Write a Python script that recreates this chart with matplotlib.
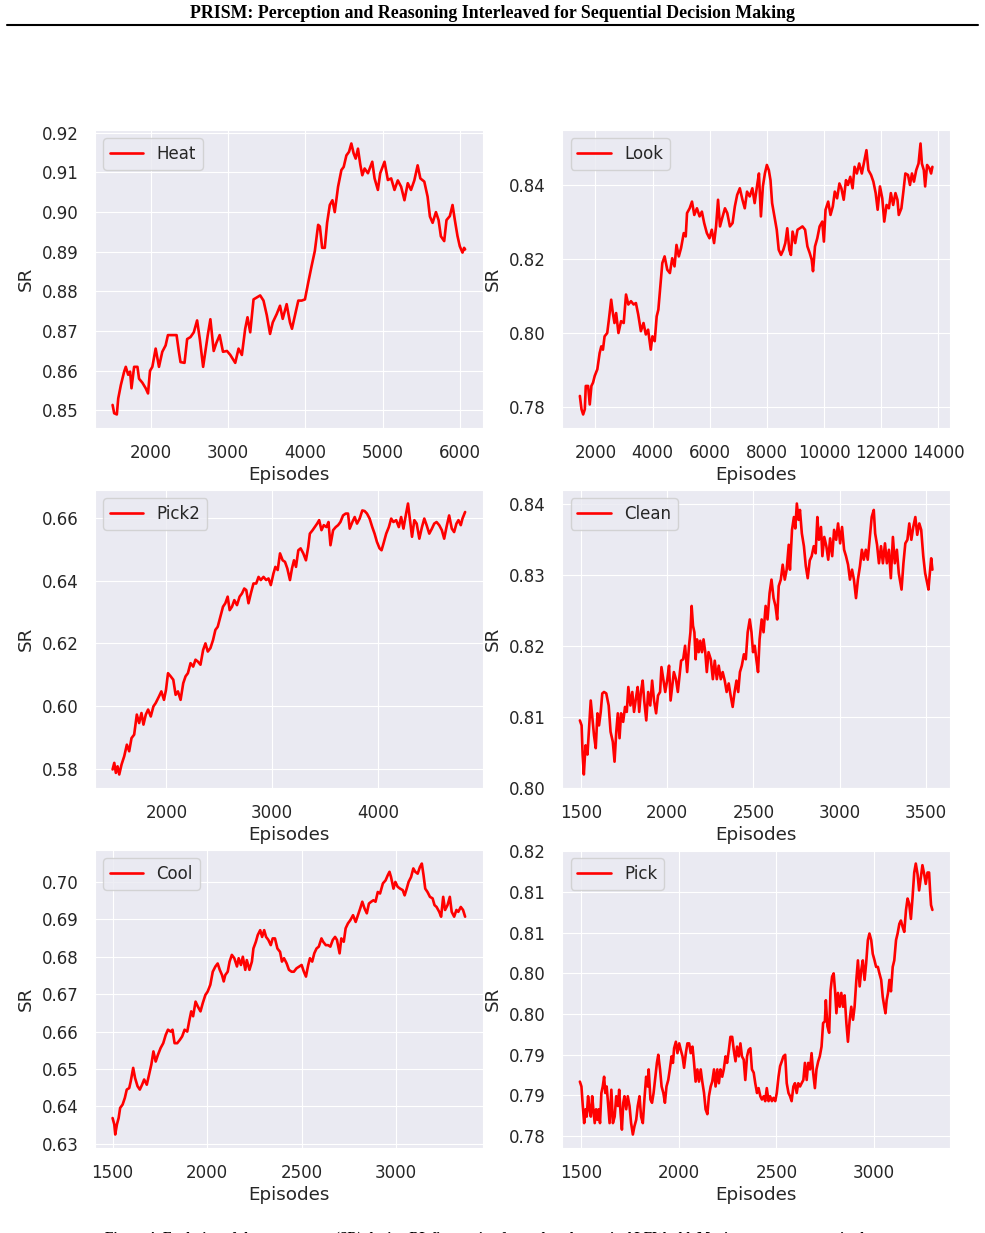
import numpy as np
import matplotlib
matplotlib.use("Agg")
import matplotlib.pyplot as plt
import matplotlib.ticker as mticker
import seaborn as sns

# success-rate curves (episode, SR)
heat_ep = [1502, 1523, 1557, 1575, 1609, 1652, 1673, 1704, 1729, 1747, 1781, 1824, 1845, 1888, 1931,
           1961, 1987, 2017, 2060, 2103, 2146, 2189, 2219, 2275, 2331, 2361, 2382, 2434, 2468, 2511,
           2554, 2597, 2632, 2675, 2705, 2735, 2769, 2812, 2846, 2889, 2932, 2984, 3027, 3091, 3134,
           3177, 3220, 3250, 3285, 3328, 3371, 3414, 3457, 3500, 3542, 3577, 3628, 3671, 3706, 3757,
           3800, 3826, 3865, 3908, 3951, 3994, 4037, 4080, 4122, 4165, 4187, 4217, 4251, 4281, 4316,
           4350, 4380, 4423, 4466, 4496, 4531, 4565, 4595, 4625, 4651, 4681, 4711, 4737, 4767, 4810,
           4866, 4896, 4939, 4969, 5025, 5068, 5111, 5154, 5197, 5240, 5283, 5326, 5368, 5411, 5454,
           5489, 5540, 5583, 5613, 5648, 5691, 5725, 5755, 5798, 5828, 5871, 5906, 5936, 5970, 6000,
           6035, 6056, 6069]
heat_sr = [0.8514, 0.8493, 0.8490, 0.8530, 0.8564, 0.8598, 0.8610, 0.8590, 0.8598, 0.8556, 0.8610,
           0.8610, 0.8580, 0.8570, 0.8556, 0.8543, 0.8600, 0.8610, 0.8656, 0.8610, 0.8648, 0.8664,
           0.8690, 0.8690, 0.8690, 0.8648, 0.8622, 0.8620, 0.8680, 0.8685, 0.8697, 0.8727, 0.8680,
           0.8610, 0.8650, 0.8690, 0.8730, 0.8650, 0.8670, 0.8690, 0.8648, 0.8650, 0.8640, 0.8620,
           0.8656, 0.8640, 0.8706, 0.8735, 0.8697, 0.8780, 0.8785, 0.8790, 0.8777, 0.8740, 0.8693,
           0.8722, 0.8743, 0.8764, 0.8731, 0.8768, 0.8722, 0.8706, 0.8740, 0.8777, 0.8777, 0.8780,
           0.8823, 0.8864, 0.8902, 0.8968, 0.8964, 0.8910, 0.8910, 0.8973, 0.9018, 0.9030, 0.9000,
           0.9064, 0.9106, 0.9114, 0.9143, 0.9152, 0.9173, 0.9148, 0.9135, 0.9160, 0.9120, 0.9093,
           0.9110, 0.9098, 0.9127, 0.9085, 0.9056, 0.9098, 0.9127, 0.9081, 0.9085, 0.9056, 0.9080,
           0.9064, 0.9030, 0.9073, 0.9056, 0.9080, 0.9118, 0.9085, 0.9077, 0.9039, 0.8989, 0.8973,
           0.9000, 0.8980, 0.8939, 0.8927, 0.8980, 0.8990, 0.9018, 0.8980, 0.8940, 0.8914, 0.8898,
           0.8910, 0.8906]

look_ep = [1458, 1515, 1573, 1631, 1665, 1746, 1804, 1862, 1919, 1977, 2069, 2150, 2208, 2265, 2323,
           2415, 2473, 2554, 2612, 2669, 2727, 2808, 2900, 2992, 3073, 3154, 3246, 3339, 3419, 3500,
           3593, 3685, 3766, 3846, 3939, 3996, 4077, 4146, 4204, 4285, 4343, 4423, 4516, 4608, 4689,
           4770, 4839, 4920, 5000, 5093, 5162, 5208, 5300, 5381, 5462, 5554, 5647, 5727, 5808, 5901,
           5993, 6074, 6154, 6224, 6293, 6362, 6454, 6535, 6616, 6708, 6801, 6881, 6962, 7055, 7147,
           7228, 7308, 7401, 7493, 7574, 7655, 7724, 7793, 7862, 7932, 8001, 8070, 8128, 8185, 8266,
           8347, 8416, 8497, 8578, 8647, 8716, 8786, 8843, 8901, 8993, 9074, 9155, 9247, 9339, 9420,
           9501, 9570, 9616, 9686, 9766, 9847, 9940, 9997, 10055, 10147, 10228, 10309, 10378, 10459,
           10540, 10609, 10690, 10770, 10840, 10920, 11001, 11070, 11151, 11232, 11324, 11417, 11486,
           11555, 11647, 11728, 11809, 11878, 11959, 12040, 12109, 12190, 12271, 12340, 12421, 12501,
           12571, 12617, 12709, 12778, 12848, 12940, 13009, 13078, 13148, 13228, 13309, 13378, 13425,
           13494, 13540, 13609, 13690, 13748, 13794]
look_sr = [0.7830, 0.7794, 0.7780, 0.7794, 0.7857, 0.7857, 0.7807, 0.7857, 0.7866, 0.7884, 0.7902,
           0.7946, 0.7964, 0.7955, 0.7991, 0.8000, 0.8036, 0.8090, 0.8054, 0.8027, 0.8054, 0.8000,
           0.8032, 0.8027, 0.8104, 0.8077, 0.8086, 0.8077, 0.8081, 0.8050, 0.8005, 0.8027, 0.7996,
           0.8009, 0.7955, 0.7991, 0.7978, 0.8045, 0.8063, 0.8135, 0.8189, 0.8207, 0.8171, 0.8162,
           0.8202, 0.8180, 0.8238, 0.8207, 0.8230, 0.8270, 0.8261, 0.8324, 0.8337, 0.8355, 0.8319,
           0.8337, 0.8315, 0.8328, 0.8297, 0.8270, 0.8256, 0.8279, 0.8243, 0.8288, 0.8360, 0.8288,
           0.8315, 0.8337, 0.8324, 0.8288, 0.8297, 0.8342, 0.8373, 0.8391, 0.8360, 0.8337, 0.8382,
           0.8369, 0.8391, 0.8351, 0.8396, 0.8431, 0.8315, 0.8396, 0.8431, 0.8454, 0.8440, 0.8413,
           0.8351, 0.8315, 0.8279, 0.8225, 0.8211, 0.8225, 0.8243, 0.8283, 0.8225, 0.8211, 0.8274,
           0.8243, 0.8279, 0.8283, 0.8288, 0.8279, 0.8234, 0.8216, 0.8198, 0.8167, 0.8234, 0.8256,
           0.8288, 0.8301, 0.8247, 0.8333, 0.8355, 0.8319, 0.8342, 0.8382, 0.8364, 0.8404, 0.8391,
           0.8360, 0.8413, 0.8400, 0.8422, 0.8391, 0.8449, 0.8431, 0.8458, 0.8431, 0.8467, 0.8494,
           0.8440, 0.8427, 0.8409, 0.8378, 0.8333, 0.8396, 0.8364, 0.8301, 0.8346, 0.8337, 0.8378,
           0.8346, 0.8378, 0.8360, 0.8319, 0.8337, 0.8382, 0.8431, 0.8427, 0.8400, 0.8431, 0.8409,
           0.8440, 0.8458, 0.8512, 0.8458, 0.8440, 0.8396, 0.8454, 0.8445, 0.8431, 0.8449]

pick2_ep = [1492, 1508, 1523, 1539, 1555, 1577, 1602, 1627, 1649, 1671, 1696, 1721, 1743, 1765, 1784,
            1806, 1828, 1853, 1878, 1900, 1931, 1953, 1978, 1997, 2016, 2041, 2066, 2088, 2110, 2135,
            2160, 2182, 2204, 2229, 2254, 2276, 2298, 2323, 2348, 2370, 2392, 2417, 2442, 2464, 2486,
            2511, 2536, 2558, 2580, 2599, 2621, 2643, 2668, 2693, 2715, 2737, 2756, 2777, 2799, 2824,
            2850, 2872, 2893, 2919, 2944, 2966, 2988, 3013, 3031, 3053, 3075, 3100, 3122, 3144, 3169,
            3188, 3207, 3226, 3248, 3270, 3295, 3320, 3342, 3357, 3383, 3404, 3426, 3445, 3467, 3489,
            3514, 3533, 3552, 3577, 3602, 3624, 3646, 3671, 3696, 3718, 3734, 3759, 3781, 3803, 3828,
            3853, 3875, 3897, 3922, 3947, 3969, 3991, 4016, 4035, 4053, 4079, 4104, 4126, 4147, 4173,
            4198, 4220, 4242, 4267, 4285, 4304, 4323, 4345, 4367, 4392, 4417, 4439, 4461, 4486, 4511,
            4533, 4555, 4580, 4605, 4627, 4649, 4674, 4699, 4721, 4743, 4762, 4784, 4800, 4825]
pick2_sr = [0.5798, 0.5819, 0.5787, 0.5808, 0.5782, 0.5814, 0.5840, 0.5877, 0.5856, 0.5898, 0.5909,
            0.5973, 0.5946, 0.5978, 0.5941, 0.5973, 0.5989, 0.5967, 0.5999, 0.6010, 0.6031, 0.6047,
            0.6020, 0.6052, 0.6105, 0.6095, 0.6084, 0.6036, 0.6047, 0.6020, 0.6073, 0.6095, 0.6105,
            0.6137, 0.6126, 0.6148, 0.6142, 0.6132, 0.6179, 0.6200, 0.6174, 0.6185, 0.6211, 0.6243,
            0.6253, 0.6285, 0.6317, 0.6328, 0.6349, 0.6306, 0.6317, 0.6338, 0.6322, 0.6349, 0.6359,
            0.6375, 0.6370, 0.6328, 0.6359, 0.6391, 0.6391, 0.6412, 0.6402, 0.6412, 0.6402, 0.6407,
            0.6386, 0.6423, 0.6444, 0.6434, 0.6487, 0.6465, 0.6460, 0.6439, 0.6402, 0.6439, 0.6465,
            0.6444, 0.6497, 0.6503, 0.6487, 0.6465, 0.6508, 0.6550, 0.6561, 0.6571, 0.6582, 0.6593,
            0.6561, 0.6577, 0.6571, 0.6587, 0.6513, 0.6561, 0.6571, 0.6577, 0.6587, 0.6608, 0.6614,
            0.6614, 0.6566, 0.6587, 0.6603, 0.6582, 0.6598, 0.6624, 0.6622, 0.6614, 0.6598, 0.6571,
            0.6550, 0.6524, 0.6503, 0.6497, 0.6518, 0.6550, 0.6571, 0.6598, 0.6587, 0.6593, 0.6571,
            0.6603, 0.6566, 0.6614, 0.6646, 0.6593, 0.6540, 0.6593, 0.6582, 0.6534, 0.6571, 0.6598,
            0.6577, 0.6550, 0.6566, 0.6582, 0.6587, 0.6577, 0.6561, 0.6534, 0.6571, 0.6608, 0.6566,
            0.6555, 0.6582, 0.6593, 0.6577, 0.6598, 0.6619]

clean_ep = [1494, 1504, 1510, 1517, 1527, 1538, 1546, 1557, 1567, 1576, 1586, 1596, 1605, 1615, 1624,
            1634, 1647, 1661, 1672, 1685, 1695, 1705, 1714, 1724, 1733, 1745, 1756, 1766, 1775, 1787,
            1798, 1808, 1819, 1829, 1838, 1848, 1858, 1867, 1879, 1890, 1902, 1913, 1924, 1936, 1947,
            1959, 1967, 1978, 1989, 2001, 2011, 2020, 2030, 2039, 2051, 2062, 2074, 2081, 2093, 2104,
            2116, 2127, 2135, 2142, 2150, 2158, 2165, 2173, 2183, 2192, 2202, 2211, 2221, 2230, 2240,
            2253, 2265, 2276, 2288, 2299, 2311, 2322, 2334, 2345, 2357, 2368, 2380, 2391, 2402, 2412,
            2422, 2433, 2445, 2456, 2467, 2479, 2489, 2498, 2508, 2517, 2527, 2536, 2548, 2559, 2571,
            2582, 2594, 2605, 2617, 2628, 2638, 2647, 2659, 2670, 2682, 2693, 2705, 2712, 2724, 2735,
            2743, 2752, 2762, 2770, 2781, 2793, 2804, 2815, 2827, 2838, 2850, 2861, 2871, 2880, 2892,
            2900, 2911, 2923, 2934, 2945, 2957, 2968, 2980, 2991, 3003, 3014, 3026, 3037, 3049, 3060,
            3072, 3083, 3095, 3106, 3118, 3129, 3140, 3152, 3163, 3175, 3186, 3198, 3206, 3217, 3228,
            3240, 3251, 3263, 3274, 3286, 3297, 3309, 3320, 3332, 3343, 3359, 3370, 3381, 3393, 3404,
            3416, 3427, 3439, 3450, 3462, 3473, 3485, 3496, 3508, 3515, 3523, 3531, 3538]
clean_sr = [0.8095, 0.8088, 0.8047, 0.8019, 0.8060, 0.8047, 0.8079, 0.8123, 0.8098, 0.8074, 0.8056,
            0.8105, 0.8088, 0.8107, 0.8133, 0.8135, 0.8133, 0.8116, 0.8079, 0.8065, 0.8037, 0.8079,
            0.8105, 0.8070, 0.8105, 0.8093, 0.8114, 0.8107, 0.8142, 0.8116, 0.8135, 0.8107, 0.8126,
            0.8142, 0.8107, 0.8135, 0.8151, 0.8123, 0.8095, 0.8135, 0.8116, 0.8151, 0.8123, 0.8105,
            0.8130, 0.8135, 0.8170, 0.8153, 0.8135, 0.8153, 0.8172, 0.8123, 0.8144, 0.8163, 0.8153,
            0.8135, 0.8163, 0.8179, 0.8181, 0.8200, 0.8163, 0.8200, 0.8219, 0.8256, 0.8228, 0.8219,
            0.8181, 0.8209, 0.8191, 0.8207, 0.8191, 0.8209, 0.8191, 0.8163, 0.8191, 0.8181, 0.8153,
            0.8179, 0.8153, 0.8172, 0.8153, 0.8163, 0.8151, 0.8135, 0.8147, 0.8130, 0.8114, 0.8135,
            0.8151, 0.8135, 0.8163, 0.8172, 0.8188, 0.8181, 0.8219, 0.8237, 0.8219, 0.8191, 0.8200,
            0.8181, 0.8163, 0.8209, 0.8237, 0.8219, 0.8256, 0.8237, 0.8274, 0.8293, 0.8267, 0.8256,
            0.8237, 0.8284, 0.8293, 0.8314, 0.8293, 0.8307, 0.8342, 0.8307, 0.8363, 0.8381, 0.8365,
            0.8400, 0.8377, 0.8391, 0.8358, 0.8340, 0.8312, 0.8295, 0.8320, 0.8326, 0.8340, 0.8330,
            0.8381, 0.8349, 0.8367, 0.8326, 0.8353, 0.8340, 0.8321, 0.8351, 0.8326, 0.8363, 0.8349,
            0.8372, 0.8344, 0.8367, 0.8335, 0.8326, 0.8314, 0.8293, 0.8307, 0.8293, 0.8267, 0.8293,
            0.8312, 0.8335, 0.8321, 0.8335, 0.8321, 0.8353, 0.8381, 0.8391, 0.8358, 0.8342, 0.8316,
            0.8340, 0.8316, 0.8344, 0.8316, 0.8335, 0.8295, 0.8353, 0.8316, 0.8335, 0.8302, 0.8279,
            0.8316, 0.8344, 0.8349, 0.8372, 0.8349, 0.8367, 0.8381, 0.8356, 0.8372, 0.8363, 0.8326,
            0.8302, 0.8288, 0.8279, 0.8302, 0.8323, 0.8307]

cool_ep = [1500, 1509, 1514, 1523, 1532, 1540, 1553, 1565, 1575, 1588, 1596, 1609, 1619, 1632, 1644,
           1656, 1667, 1681, 1693, 1705, 1716, 1728, 1740, 1754, 1768, 1781, 1793, 1807, 1817, 1828,
           1842, 1856, 1868, 1881, 1895, 1905, 1916, 1926, 1939, 1951, 1965, 1977, 1991, 2003, 2017,
           2030, 2044, 2056, 2067, 2079, 2088, 2096, 2109, 2119, 2131, 2144, 2158, 2167, 2179, 2189,
           2202, 2210, 2224, 2237, 2245, 2258, 2268, 2281, 2291, 2302, 2312, 2324, 2337, 2347, 2359,
           2372, 2386, 2396, 2407, 2421, 2433, 2447, 2459, 2473, 2488, 2500, 2512, 2523, 2535, 2544,
           2556, 2567, 2579, 2591, 2605, 2614, 2628, 2640, 2652, 2665, 2677, 2687, 2701, 2710, 2723,
           2733, 2745, 2758, 2772, 2786, 2798, 2810, 2821, 2833, 2845, 2856, 2868, 2880, 2891, 2903,
           2915, 2930, 2944, 2956, 2965, 2973, 2986, 2996, 3008, 3021, 3035, 3045, 3056, 3066, 3079,
           3091, 3101, 3114, 3126, 3136, 3145, 3154, 3166, 3179, 3193, 3203, 3214, 3228, 3238, 3249,
           3259, 3272, 3284, 3294, 3307, 3319, 3329, 3342, 3354, 3365]
cool_sr = [0.6369, 0.6352, 0.6325, 0.6352, 0.6369, 0.6396, 0.6405, 0.6423, 0.6445, 0.6449, 0.6467,
           0.6503, 0.6476, 0.6454, 0.6445, 0.6458, 0.6472, 0.6458, 0.6485, 0.6512, 0.6547, 0.6520,
           0.6538, 0.6556, 0.6569, 0.6591, 0.6605, 0.6600, 0.6605, 0.6569, 0.6569, 0.6578, 0.6587,
           0.6605, 0.6600, 0.6627, 0.6654, 0.6641, 0.6680, 0.6667, 0.6654, 0.6676, 0.6698, 0.6707,
           0.6725, 0.6760, 0.6774, 0.6782, 0.6765, 0.6751, 0.6734, 0.6751, 0.6760, 0.6787, 0.6805,
           0.6796, 0.6774, 0.6796, 0.6778, 0.6800, 0.6765, 0.6791, 0.6765, 0.6787, 0.6822, 0.6840,
           0.6858, 0.6871, 0.6853, 0.6871, 0.6853, 0.6845, 0.6831, 0.6849, 0.6849, 0.6822, 0.6813,
           0.6787, 0.6796, 0.6782, 0.6765, 0.6760, 0.6760, 0.6769, 0.6774, 0.6778, 0.6760, 0.6747,
           0.6778, 0.6796, 0.6787, 0.6809, 0.6822, 0.6827, 0.6849, 0.6840, 0.6831, 0.6831, 0.6827,
           0.6845, 0.6853, 0.6845, 0.6809, 0.6849, 0.6840, 0.6876, 0.6889, 0.6898, 0.6911, 0.6893,
           0.6911, 0.6929, 0.6947, 0.6929, 0.6916, 0.6942, 0.6947, 0.6951, 0.6947, 0.6973, 0.6969,
           0.6996, 0.7004, 0.7018, 0.7027, 0.7013, 0.6982, 0.7000, 0.6987, 0.6982, 0.6978, 0.6964,
           0.6982, 0.7000, 0.7013, 0.7036, 0.7027, 0.7022, 0.7040, 0.7049, 0.7018, 0.6982, 0.6973,
           0.6960, 0.6956, 0.6938, 0.6933, 0.6920, 0.6907, 0.6960, 0.6925, 0.6938, 0.6960, 0.6920,
           0.6907, 0.6925, 0.6920, 0.6933, 0.6925, 0.6907]

pick_ep = [1495, 1503, 1510, 1517, 1524, 1530, 1537, 1544, 1551, 1558, 1564, 1571, 1578, 1585, 1591,
           1598, 1605, 1612, 1619, 1625, 1632, 1639, 1647, 1656, 1664, 1673, 1681, 1690, 1696, 1703,
           1710, 1717, 1723, 1732, 1740, 1749, 1757, 1766, 1774, 1783, 1791, 1800, 1808, 1817, 1825,
           1834, 1842, 1847, 1856, 1864, 1872, 1881, 1889, 1896, 1905, 1913, 1922, 1930, 1938, 1947,
           1955, 1964, 1971, 1977, 1986, 1994, 2003, 2011, 2020, 2028, 2037, 2045, 2054, 2062, 2071,
           2079, 2087, 2096, 2104, 2113, 2121, 2130, 2138, 2147, 2155, 2164, 2172, 2181, 2189, 2198,
           2206, 2214, 2223, 2231, 2240, 2248, 2257, 2265, 2274, 2282, 2291, 2299, 2308, 2316, 2324,
           2333, 2341, 2350, 2358, 2367, 2375, 2384, 2392, 2401, 2409, 2418, 2426, 2435, 2443, 2451,
           2460, 2468, 2477, 2485, 2494, 2502, 2511, 2519, 2528, 2536, 2545, 2553, 2562, 2570, 2578,
           2587, 2595, 2604, 2612, 2621, 2629, 2638, 2646, 2655, 2663, 2672, 2680, 2688, 2697, 2705,
           2714, 2722, 2731, 2739, 2748, 2753, 2761, 2770, 2777, 2785, 2793, 2800, 2807, 2815, 2824,
           2832, 2841, 2849, 2858, 2866, 2875, 2883, 2892, 2900, 2909, 2917, 2926, 2934, 2942, 2951,
           2959, 2968, 2976, 2985, 2993, 3002, 3010, 3019, 3027, 3036, 3044, 3052, 3058, 3064, 3071,
           3078, 3086, 3095, 3103, 3112, 3120, 3129, 3137, 3146, 3154, 3163, 3171, 3179, 3188, 3196,
           3205, 3213, 3222, 3230, 3239, 3247, 3256, 3264, 3273, 3281, 3286, 3291, 3298]
pick_sr = [0.7867, 0.7861, 0.7837, 0.7816, 0.7833, 0.7824, 0.7849, 0.7833, 0.7824, 0.7849, 0.7833,
           0.7816, 0.7833, 0.7820, 0.7833, 0.7816, 0.7853, 0.7861, 0.7873, 0.7853, 0.7861, 0.7841,
           0.7816, 0.7857, 0.7816, 0.7824, 0.7849, 0.7837, 0.7857, 0.7829, 0.7808, 0.7841, 0.7849,
           0.7833, 0.7849, 0.7837, 0.7816, 0.7802, 0.7812, 0.7820, 0.7837, 0.7849, 0.7824, 0.7816,
           0.7845, 0.7873, 0.7861, 0.7882, 0.7845, 0.7841, 0.7853, 0.7873, 0.7890, 0.7900, 0.7882,
           0.7861, 0.7853, 0.7841, 0.7861, 0.7869, 0.7882, 0.7898, 0.7890, 0.7908, 0.7916, 0.7902,
           0.7914, 0.7906, 0.7898, 0.7884, 0.7902, 0.7914, 0.7914, 0.7902, 0.7910, 0.7890, 0.7867,
           0.7882, 0.7867, 0.7882, 0.7867, 0.7853, 0.7833, 0.7827, 0.7849, 0.7861, 0.7867, 0.7882,
           0.7861, 0.7882, 0.7865, 0.7882, 0.7873, 0.7882, 0.7898, 0.7890, 0.7906, 0.7922, 0.7922,
           0.7906, 0.7892, 0.7910, 0.7898, 0.7914, 0.7898, 0.7894, 0.7869, 0.7898, 0.7906, 0.7908,
           0.7882, 0.7878, 0.7865, 0.7853, 0.7859, 0.7849, 0.7845, 0.7849, 0.7843, 0.7859, 0.7843,
           0.7849, 0.7843, 0.7847, 0.7843, 0.7853, 0.7873, 0.7886, 0.7892, 0.7898, 0.7900, 0.7865,
           0.7853, 0.7849, 0.7843, 0.7861, 0.7865, 0.7853, 0.7865, 0.7861, 0.7865, 0.7869, 0.7890,
           0.7869, 0.7890, 0.7882, 0.7902, 0.7878, 0.7859, 0.7882, 0.7892, 0.7898, 0.7910, 0.7939,
           0.7941, 0.7967, 0.7935, 0.7927, 0.7979, 0.7996, 0.8000, 0.7979, 0.7951, 0.7976, 0.7959,
           0.7976, 0.7959, 0.7973, 0.7939, 0.7916, 0.7943, 0.7959, 0.7943, 0.7959, 0.7992, 0.8016,
           0.7984, 0.8004, 0.8016, 0.7992, 0.8012, 0.8041, 0.8049, 0.8041, 0.8024, 0.8016, 0.8008,
           0.8008, 0.8000, 0.7992, 0.7971, 0.7959, 0.7951, 0.7967, 0.7976, 0.7992, 0.7978, 0.8008,
           0.8016, 0.8041, 0.8049, 0.8061, 0.8065, 0.8057, 0.8051, 0.8078, 0.8092, 0.8086, 0.8067,
           0.8092, 0.8124, 0.8135, 0.8122, 0.8102, 0.8118, 0.8133, 0.8122, 0.8110, 0.8124, 0.8124,
           0.8102, 0.8084, 0.8078]

panels = [
    ("Heat", heat_ep, heat_sr),
    ("Look", look_ep, look_sr),
    ("Pick2", pick2_ep, pick2_sr),
    ("Clean", clean_ep, clean_sr),
    ("Cool", cool_ep, cool_sr),
    ("Pick", pick_ep, pick_sr),
]

header = "PRISM: Perception and Reasoning Interleaved for Sequential Decision Making"
caption = ("Figure 4: Evolution of the success rate (SR) during RL fine-tuning for each task "
           "type in ALFWorld. Moving average over episodes.")

sns.set_style("darkgrid")
plt.rcParams['font.family'] = ['DejaVu Sans']

fig, axes = plt.subplots(3, 2, figsize=(9.85, 12.33), dpi=100)
fig.subplots_adjust(left=0.0964, right=0.9645, top=0.8946, bottom=0.0689,
                    wspace=0.205, hspace=0.208)

for ax, (name, ep, sr) in zip(axes.flat, panels):
    ax.plot(ep, sr, color='red', linewidth=1.9, label=name)
    ax.set_xlabel('Episodes', fontsize=13.2, color='.15', labelpad=3)
    ax.set_ylabel('SR', fontsize=13.2, color='.15', labelpad=5)
    ax.tick_params(axis='x', labelsize=12, colors='.15', pad=8)
    ax.tick_params(axis='y', labelsize=12, colors='.15', pad=8.5)
    ax.legend(loc='upper left', fontsize=12)

# "Pick" panel ticks are printed with two decimals (0.815 -> 0.82)
axes[2, 1].yaxis.set_major_locator(mticker.MultipleLocator(0.005))
axes[2, 1].yaxis.set_major_formatter(
    mticker.FuncFormatter(lambda v, p: f"{np.floor(v * 100 + 0.5 + 1e-9) / 100:.2f}"))

# page header and rule
fig.text(0.5, 1 - 13 / 1233, header, ha='center', va='center', fontsize=12.9,
         fontweight='bold', family='Liberation Serif', color='black')
fig.add_artist(plt.Line2D([7 / 985, 978 / 985], [1 - 25 / 1233] * 2,
                          color='black', linewidth=1.5, transform=fig.transFigure))

# caption, cut off by the page crop
fig.text(0.5, 1.5 / 1233, caption, ha='center', va='top', fontsize=10,
         fontweight='bold', family='Liberation Serif', color='black')

fig.savefig('out.png', dpi=100)
